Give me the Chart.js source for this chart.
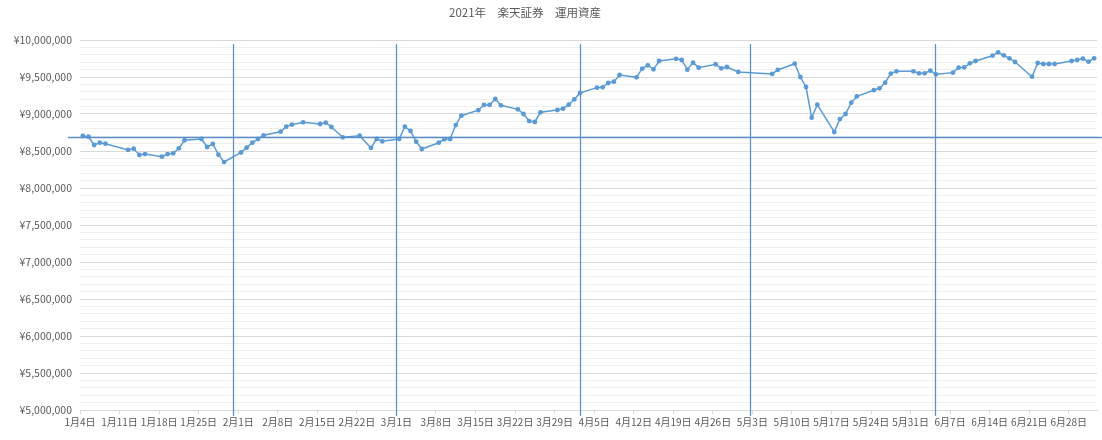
<!DOCTYPE html>
<html lang="ja">
<head>
<meta charset="utf-8">
<title>2021年 楽天証券 運用資産</title>
<script src="https://cdn.jsdelivr.net/npm/chart.js@4/dist/chart.umd.min.js"></script>
<style>
  body { margin: 0; background: #fff; }
  #wrap { position: relative; width: 1102px; height: 440px; }
  #title {
    position: absolute; left: 449px; top: 4px;
    font: 11.5px "Noto Sans CJK JP", "Noto Sans", sans-serif;
    color: #595959; white-space: nowrap;
  }
</style>
</head>
<body>
<div id="wrap">
  <div id="title">2021年　楽天証券　運用資産</div>
  <canvas id="plot" width="1102" height="440"></canvas>
</div>
<script>
// 取引日 (M/D) と運用資産 (円)
const dates = [
  '1/4','1/5','1/6','1/7','1/8','1/12','1/13','1/14','1/15','1/18','1/19','1/20','1/21','1/22',
  '1/25','1/26','1/27','1/28','1/29','2/1','2/2','2/3','2/4','2/5','2/8','2/9','2/10','2/12',
  '2/15','2/16','2/17','2/19','2/22','2/24','2/25','2/26','3/1','3/2','3/3','3/4','3/5',
  '3/8','3/9','3/10','3/11','3/12','3/15','3/16','3/17','3/18','3/19','3/22','3/23','3/24','3/25','3/26',
  '3/29','3/30','3/31','4/1','4/2','4/5','4/6','4/7','4/8','4/9','4/12','4/13','4/14','4/15','4/16',
  '4/19','4/20','4/21','4/22','4/23','4/26','4/27','4/28','4/30','5/6','5/7',
  '5/10','5/11','5/12','5/13','5/14','5/17','5/18','5/19','5/20','5/21','5/24','5/25','5/26','5/27','5/28',
  '5/31','6/1','6/2','6/3','6/4','6/7','6/8','6/9','6/10','6/11','6/14','6/15','6/16','6/17','6/18',
  '6/21','6/22','6/23','6/24','6/25','6/28','6/29','6/30','7/1','7/2'
];
const values = [
  8703000, 8693000, 8581000, 8612000, 8599000, 8514000, 8531000, 8446000, 8459000, 8423000, 8459000, 8468000, 8536000, 8645000,
  8662000, 8554000, 8595000, 8450000, 8351000, 8480000, 8545000, 8612000, 8662000, 8712000, 8761000, 8829000, 8856000, 8888000,
  8865000, 8883000, 8824000, 8685000, 8707000, 8541000, 8662000, 8631000, 8662000, 8829000, 8770000, 8626000, 8527000,
  8612000, 8658000, 8662000, 8851000, 8977000, 9052000, 9122000, 9122000, 9203000, 9117000, 9063000, 9000000, 8905000, 8892000, 9023000,
  9054000, 9072000, 9126000, 9198000, 9284000, 9356000, 9360000, 9419000, 9437000, 9527000, 9496000, 9613000, 9658000, 9604000, 9716000,
  9746000, 9730000, 9599000, 9694000, 9626000, 9672000, 9617000, 9635000, 9568000, 9541000, 9595000,
  9680000, 9500000, 9365000, 8950000, 9126000, 8757000, 8932000, 9000000, 9153000, 9239000, 9322000, 9347000, 9423000, 9545000, 9577000,
  9577000, 9550000, 9550000, 9586000, 9536000, 9559000, 9626000, 9631000, 9685000, 9716000, 9788000, 9833000, 9793000, 9752000, 9703000,
  9504000, 9689000, 9676000, 9676000, 9676000, 9716000, 9730000, 9748000, 9707000, 9752000
];

// 横軸の目盛 (1/4 から 7日おき)
const tickLabels = [
  '1月4日','1月11日','1月18日','1月25日','2月1日','2月8日','2月15日','2月22日',
  '3月1日','3月8日','3月15日','3月22日','3月29日','4月5日','4月12日','4月19日','4月26日',
  '5月3日','5月10日','5月17日','5月24日','5月31日','6月7日','6月14日','6月21日','6月28日'
];

// 月の区切り線 (1/4 からの日数) と基準線 (円)
const monthLines = [27.15, 55.9, 88.5, 118.5, 151.3];
const baseLine = 8690000;

const startDay = Date.UTC(2021, 0, 4);
function dayOf(s) {
  const [m, d] = s.split('/').map(Number);
  return (Date.UTC(2021, m - 1, d) - startDay) / 86400000;
}
// 日付軸は目盛の間に点を置く
const points = dates.map((s, i) => ({ x: dayOf(s) + 0.5, y: values[i] }));

function yen(v) {
  return '¥' + String(v).replace(/\B(?=(\d{3})+(?!\d))/g, ',');
}

const guideLines = {
  id: 'guideLines',
  afterDatasetsDraw(chart) {
    const { ctx, chartArea, scales: { x, y } } = chart;
    ctx.save();
    ctx.strokeStyle = '#5a8fcb';
    ctx.lineWidth = 1.25;
    monthLines.forEach(d => {
      const px = Math.round(x.getPixelForValue(d)) + 0.5;
      ctx.beginPath();
      ctx.moveTo(px, chartArea.top + 4);
      ctx.lineTo(px, chartArea.bottom + 6);
      ctx.stroke();
    });
    const py = Math.round(y.getPixelForValue(baseLine)) + 0.5;
    ctx.lineWidth = 1.5;
    ctx.beginPath();
    ctx.moveTo(chartArea.left - 12, py);
    ctx.lineTo(chart.width, py);
    ctx.stroke();
    ctx.restore();
  }
};

const font = { family: '"Noto Sans CJK JP", "Noto Sans", sans-serif' };

const chart = new Chart(document.getElementById('plot'), {
  type: 'line',
  data: {
    datasets: [{
      label: '運用資産',
      data: points,
      borderColor: '#5b9bd5',
      backgroundColor: '#5b9bd5',
      borderWidth: 1.5,
      pointRadius: 2.4,
      pointBorderWidth: 0,
      pointBackgroundColor: '#5b9bd5',
      tension: 0
    }]
  },
  options: {
    responsive: false,
    animation: false,
    layout: { padding: { top: 40, right: 5, left: 0, bottom: 0 } },
    plugins: {
      legend: { display: false },
      tooltip: { enabled: false },
      title: { display: false }
    },
    scales: {
      x: {
        type: 'linear',
        min: 0,
        max: 180,
        afterBuildTicks: scale => {
          scale.ticks = tickLabels.map((_, i) => ({ value: i * 7 }));
        },
        afterFit: scale => { scale.height = 30; },
        ticks: {
          autoSkip: false,
          maxRotation: 0,
          padding: 2,
          color: '#595959',
          font: { ...font, size: 10 },
          callback: (v, i) => tickLabels[i]
        },
        grid: { drawOnChartArea: false, tickLength: 4, color: '#d9d9d9' },
        border: { color: '#d9d9d9' }
      },
      y: {
        min: 5000000,
        max: 10000000,
        afterBuildTicks: scale => {
          const t = [];
          for (let v = 5000000; v <= 10000000; v += 100000) t.push({ value: v });
          scale.ticks = t;
        },
        afterFit: scale => { scale.width = 80; },
        ticks: {
          autoSkip: false,
          padding: 8,
          color: '#595959',
          font: { ...font, size: 10.5 },
          callback: v => (v % 500000 === 0 ? yen(v) : '')
        },
        grid: {
          drawTicks: false,
          color: c => (c.tick && c.tick.value % 500000 === 0 ? '#d9d9d9' : '#efefef')
        },
        border: { display: false }
      }
    }
  },
  plugins: [guideLines]
});
</script>
</body>
</html>
